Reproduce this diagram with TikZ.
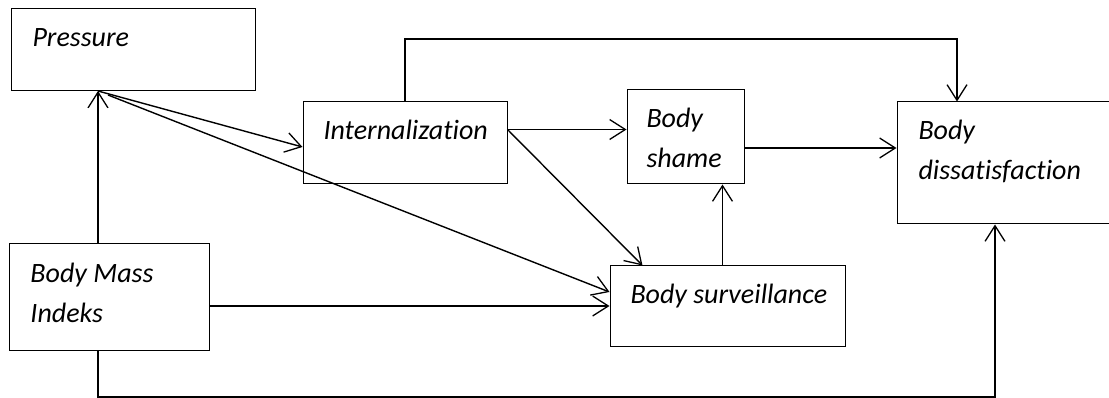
\documentclass[tikz,border=0pt]{standalone}
\usepackage{fontspec}
\setmainfont{Carlito}[Ligatures=NoCommon]
\usetikzlibrary{arrows.meta,calc}
\tikzset{
  >={Straight Barb[length=5.5mm,width=7mm,line width=1.3pt]},
  bx/.style={draw,line width=1pt,inner sep=0pt,rectangle},
  tx/.style={anchor=base west,inner sep=0pt,align=left,font=\fontsize{28}{40}\selectfont\itshape},
  ln/.style={line width=1.4pt},
  every picture/.style={line width=1pt},
}
\begin{document}
\begin{tikzpicture}[x=1pt,y=-1pt]
\useasboundingbox (0,0) rectangle (1109,398);
\node[bx,minimum width=244pt,minimum height=82pt] (P) at (133,50){};
\node[bx,minimum width=204pt,minimum height=82pt] (I) at (405,143){};
\node[bx,minimum width=117pt,minimum height=94pt] (S) at (685.5,137){};
\node[bx,minimum width=218pt,minimum height=122pt] (D) at (1006,163){};
\node[bx,minimum width=200pt,minimum height=106pt] (M) at (109,297){};
\node[bx,minimum width=235pt,minimum height=80pt] (V) at (727.5,306){};
% texts (base = last line)
\node[tx] (Pt) at (32,47){Pressure};
\node[tx] (It) at (323,140){Internalization};
\node[tx] (St) at (646,168){Body\\shame};
\node[tx] (Dt) at (918,180){Body\\dissatisfaction};
\node[tx] (Mt) at (30,323){Body Mass\\Indeks};
\node[tx] (Vt) at (630,303){Body surveillance};
% junction points
\coordinate (pa) at (98,91); \coordinate (pb) at (108,95);
\coordinate (iout) at ([yshift=-28pt]I.north east);
\coordinate (top) at (957,39); \coordinate (bot) at (995,397);
\draw[ln,->] (M.north -| pa)--(pa);
\draw[ln,->] (pa)--([yshift=-4pt]I.west);
\draw[ln,->] (pb)--([yshift=14pt]V.west);
\draw[ln,->] (M.east |- V.west)--(V.west);
\draw[ln,->] (iout)--(iout -| S.west);
\draw[ln,->] (iout)--([xshift=33pt]V.north west);
\draw[ln,->] ([xshift=-5pt]V.north)--([xshift=-5pt]V.north |- S.south);
\draw[ln,->] ([yshift=-11pt]S.east)--([yshift=-11pt]S.east -| D.west);
\draw[ln,->] (I.north) |- (top)--(top |- D.north);
\draw[ln,->] (M.south -| pa) |- (bot)--(bot |- D.south);
\end{tikzpicture}
\end{document}
